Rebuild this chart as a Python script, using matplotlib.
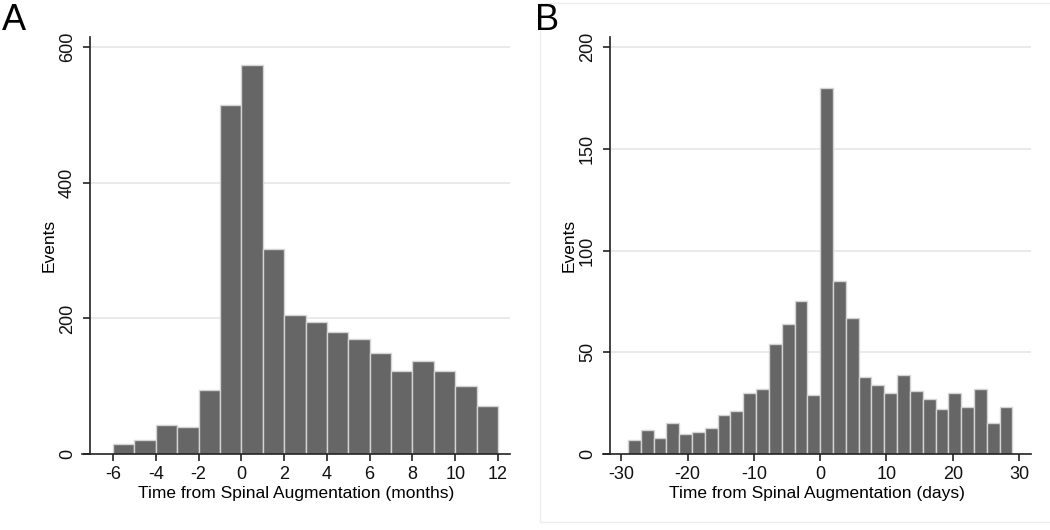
import matplotlib
matplotlib.use("Agg")
import matplotlib.pyplot as plt
import numpy as np
from matplotlib.patches import Rectangle

# ---- Data ----
months_left = [-6, -5, -4, -3, -2, -1, 0, 1, 2, 3, 4, 5, 6, 7, 8, 9, 10, 11]
months_counts = [15, 20, 43, 40, 95, 515, 574, 303, 205, 195, 180, 170, 149, 123, 137, 123, 100, 71]
months_width = 1.0
months_xticks = [-6, -4, -2, 0, 2, 4, 6, 8, 10, 12]
months_yticks = [0, 200, 400, 600]

days_range = (-29, 29)
days_nbins = 30
days_counts = [7, 12, 8, 15, 10, 11, 13, 19, 21, 30, 32, 54, 64, 75, 29,
               180, 85, 67, 38, 34, 30, 39, 31, 27, 22, 30, 23, 32, 15, 23]
days_xticks = [-30, -20, -10, 0, 10, 20, 30]
days_yticks = [0, 50, 100, 150, 200]

plt.rcParams['font.family'] = ['Liberation Sans', 'DejaVu Sans']
plt.rcParams['axes.unicode_minus'] = False

fig = plt.figure(figsize=(10.5, 5.3), dpi=100)

BAR = '#666666'
EDGE = '#d4d4d4'
GRID = '#e6e6e6'

def style(ax, yticks, ylim, xlim, xticks, xlabel, spine_frac):
    ax.set_ylim(*ylim)
    ax.set_xlim(*xlim)
    ax.set_xticks(xticks)
    ax.set_yticks(yticks)
    for s in ['top', 'right']:
        ax.spines[s].set_visible(False)
    for s in ['left', 'bottom']:
        ax.spines[s].set_linewidth(1.2)
        ax.spines[s].set_color('#222222')
    ax.spines['left'].set_position(('axes', spine_frac))
    ax.tick_params(axis='both', direction='out', length=5, width=1.1,
                   labelsize=13, colors='#111111')
    ax.tick_params(axis='y', pad=5)
    ax.tick_params(axis='x', pad=4)
    for lab in ax.get_yticklabels():
        lab.set_rotation(90)
        lab.set_va('center')
    for y in yticks:
        if y != 0:
            ax.axhline(y, xmin=spine_frac, color=GRID, lw=1.2, zorder=0)
    ax.set_ylabel('Events', fontsize=12.5, labelpad=2)
    ax.set_xlabel(xlabel, fontsize=12.5, labelpad=2)

# Panel A  (x-axis line starts ~8 px left of the y-axis)
axA = fig.add_axes([82 / 1050, 0.1434, 428 / 1050, 0.7868])
axA.bar(months_left, months_counts, width=months_width, align='edge',
        color=BAR, edgecolor=EDGE, linewidth=1.0, zorder=2)
style(axA, months_yticks, (0, 615), (-7.45, 12.56), months_xticks,
      'Time from Spinal Augmentation (months)', 8 / 428)

# Panel B
edges = np.linspace(days_range[0], days_range[1], days_nbins + 1)
axB = fig.add_axes([603 / 1050, 0.1434, 428 / 1050, 0.7868])
axB.bar(edges[:-1], days_counts, width=np.diff(edges), align='edge',
        color=BAR, edgecolor=EDGE, linewidth=1.0, zorder=2)
style(axB, days_yticks, (0, 205), (-32.75, 31.8), days_xticks,
      'Time from Spinal Augmentation (days)', 7 / 428)

# faint frame around panel B
fig.patches.append(Rectangle((540 / 1050, 0.015), 0.49, 0.98, transform=fig.transFigure,
                             fill=False, edgecolor='#ececec', lw=1.0))

fig.text(0.002, 0.995, 'A', fontsize=26, va='top', ha='left')
fig.text(0.510, 0.995, 'B', fontsize=26, va='top', ha='left')

fig.savefig('out.png', dpi=100)
